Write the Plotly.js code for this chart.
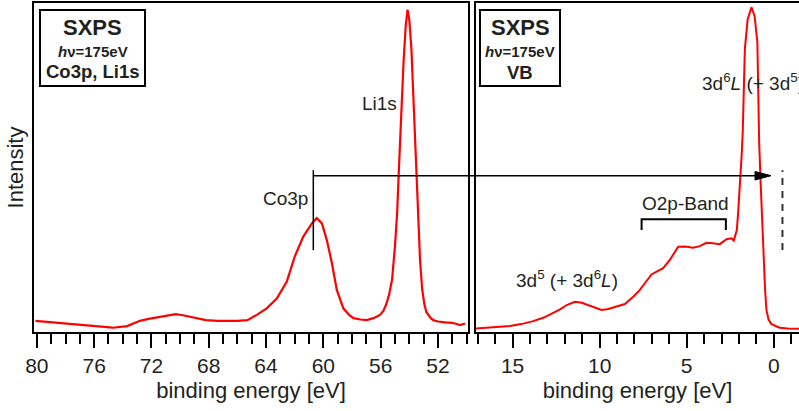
<!DOCTYPE html>
<html>
<head>
<meta charset="utf-8">
<script src="https://cdn.plot.ly/plotly-3.0.1.min.js"></script>
<style>html,body{margin:0;padding:0;background:#fff;}#chart{width:799px;height:411px;}</style>
</head>
<body>
<div id="chart"></div>
<script>
// ---- Data (binding energy in eV, intensity in arbitrary units) ----
const coLiEnergy = [80.1, 79.0, 77.9, 76.8, 75.8, 74.7, 73.7, 72.8, 72.2, 71.6, 70.9, 70.3, 69.8, 69.3, 68.7, 68.2, 67.4, 66.7, 66.0, 65.3, 64.65, 63.95, 63.25, 62.55, 62.0, 61.4, 60.8, 60.46, 60.1, 59.76, 59.4, 59.06, 58.6, 58.2, 57.9, 57.4, 56.97, 56.5, 56.04, 55.8, 55.6, 55.4, 55.2, 55.0, 54.85, 54.7, 54.55, 54.4, 54.25, 54.12, 54.0, 53.85, 53.7, 53.55, 53.4, 53.25, 53.1, 52.95, 52.8, 52.5, 52.32, 52.0, 51.5, 51.0, 50.46, 50.1];
const coLiIntensity = [3.4, 3.0, 2.6, 2.2, 1.8, 1.3, 1.8, 3.4, 4.0, 4.5, 5.0, 5.4, 5.1, 4.7, 4.1, 3.6, 3.4, 3.3, 3.4, 3.6, 5.2, 7.2, 10.2, 15.3, 22.9, 29.0, 33.0, 34.6, 33.0, 28.0, 20.9, 12.8, 7.2, 5.2, 4.2, 3.8, 3.6, 4.2, 5.2, 6.5, 8.5, 11.5, 16.0, 26.0, 36.0, 52.0, 68.0, 82.0, 93.0, 98.0, 95.0, 86.0, 70.0, 53.0, 36.0, 22.0, 13.0, 8.5, 6.0, 4.2, 3.6, 3.2, 2.9, 2.8, 2.1, 2.6];

const vbEnergy = [17.1, 16.0, 15.15, 14.5, 13.81, 13.2, 12.66, 12.3, 11.89, 11.6, 11.42, 11.03, 10.7, 10.37, 9.89, 9.5, 9.22, 8.55, 8.07, 7.69, 7.35, 7.02, 6.7, 6.35, 5.97, 5.7, 5.49, 5.1, 4.63, 4.25, 3.86, 3.5, 3.1, 2.71, 2.43, 2.3, 2.18, 2.12, 2.05, 1.92, 1.84, 1.78, 1.72, 1.66, 1.5, 1.28, 1.1, 0.94, 0.88, 0.84, 0.75, 0.65, 0.57, 0.5, 0.42, 0.3, 0.13, -0.34, -0.8, -1.45];
const vbIntensity = [1.1, 1.4, 1.8, 2.4, 3.3, 4.4, 5.7, 6.8, 8.2, 8.9, 9.2, 8.9, 8.2, 7.5, 6.7, 7.0, 7.5, 8.5, 10.7, 12.8, 15.2, 17.5, 18.4, 19.4, 21.9, 24.0, 25.9, 26.0, 25.6, 26.1, 27.1, 27.0, 26.7, 28.2, 28.5, 27.8, 29.5, 31.0, 36.0, 46.0, 54.0, 61.0, 72.0, 86.0, 95.0, 98.7, 96.0, 88.0, 70.0, 58.0, 45.0, 30.0, 21.0, 13.0, 6.7, 3.8, 2.4, 1.3, 1.1, 1.0];

const leftTicks = [80, 76, 72, 68, 64, 60, 56, 52];
const rightTicks = [15, 10, 5, 0];

// ---- Geometry helpers (pixel -> paper) ----
const W = 799, H = 411;
const M = {l: 34, r: 0, t: 3, b: 79};
const PW = W - M.l - M.r, PH = H - M.t - M.b;
const px = x => (x - M.l) / PW;
const py = y => (H - M.b - y) / PH;

const FONT = 'Liberation Sans, Arial, Helvetica, sans-serif';
const TXT = '#231f20';
const RED = '#ff0000';

const traces = [
  {x: coLiEnergy, y: coLiIntensity, xaxis: 'x', yaxis: 'y', type: 'scatter', mode: 'lines',
   line: {color: RED, width: 2.2}, hoverinfo: 'x+y', showlegend: false},
  {x: vbEnergy, y: vbIntensity, xaxis: 'x2', yaxis: 'y2', type: 'scatter', mode: 'lines',
   line: {color: RED, width: 2}, hoverinfo: 'x+y', showlegend: false}
];

const axisCommon = {
  showline: true, linecolor: '#000', linewidth: 2, mirror: true,
  ticks: 'outside', ticklen: 14, tickwidth: 2, tickcolor: '#000',
  showgrid: false, zeroline: false,
  tickfont: {family: FONT, size: 21, color: TXT}
};

function label(xpix, ypix, text, size, extra) {
  return Object.assign({xref: 'paper', yref: 'paper', x: px(xpix), y: py(ypix), text: text,
    showarrow: false, xanchor: 'center', yanchor: 'middle',
    font: {family: FONT, size: size, color: TXT}}, extra || {});
}

const layout = {
  width: W, height: H,
  margin: M,
  paper_bgcolor: '#fff', plot_bgcolor: '#fff',
  showlegend: false,
  font: {family: FONT, color: TXT},
  xaxis: Object.assign({}, axisCommon, {
    domain: [0, px(468)], range: [80.2, 49.9], anchor: 'y',
    tickvals: leftTicks, ticktext: leftTicks.map(String),
    minor: {dtick: 1, tick0: 0, ticks: 'outside', ticklen: 10, tickwidth: 2, tickcolor: '#000'},
    title: {text: 'binding energy [eV]', standoff: 6, font: {family: FONT, size: 22, color: TXT}}
  }),
  xaxis2: Object.assign({}, axisCommon, {
    domain: [px(476), 1], range: [17.1, -1.45], anchor: 'y2',
    tickvals: rightTicks, ticktext: rightTicks.map(String),
    minor: {dtick: 1, tick0: 0, ticks: 'outside', ticklen: 10, tickwidth: 2, tickcolor: '#000'},
    title: {text: 'binding energy [eV]', standoff: 6, font: {family: FONT, size: 22, color: TXT}}
  }),
  yaxis: {
    domain: [0, 1], range: [0, 100], anchor: 'x',
    showline: true, linecolor: '#000', linewidth: 2, mirror: true,
    ticks: '', showticklabels: false, showgrid: false, zeroline: false,
    title: {text: 'Intensity', standoff: 2, font: {family: FONT, size: 22, color: TXT}}
  },
  yaxis2: {
    domain: [0, 1], range: [0, 100], anchor: 'x2',
    showline: true, linecolor: '#000', linewidth: 2, mirror: false,
    ticks: '', showticklabels: false, showgrid: false, zeroline: false
  },
  shapes: [
    // info boxes
    {type: 'rect', xref: 'paper', yref: 'paper', x0: px(40), x1: px(145), y0: py(86), y1: py(10),
     line: {color: '#000', width: 2}, fillcolor: 'rgba(0,0,0,0)'},
    {type: 'rect', xref: 'paper', yref: 'paper', x0: px(480), x1: px(560), y0: py(86), y1: py(10),
     line: {color: '#000', width: 2}, fillcolor: 'rgba(0,0,0,0)'},
    // Co3p marker line
    {type: 'line', xref: 'x', yref: 'y', x0: 60.7, x1: 60.7, y0: 24.9, y1: 49.2,
     line: {color: '#000', width: 1.5}},
    // horizontal arrow shaft
    {type: 'line', xref: 'paper', yref: 'y', x0: px(313), x1: px(757), y0: 47.5, y1: 47.5,
     line: {color: '#000', width: 1.5}},
    // arrow head
    {type: 'path', xref: 'paper', yref: 'paper',
     path: `M ${px(755)} ${py(171.5)} L ${px(771)} ${py(175.7)} L ${px(755)} ${py(180)} Z`,
     fillcolor: '#000', line: {color: '#000', width: 1}},
    // dashed Fermi line
    {type: 'line', xref: 'x2', yref: 'y2', x0: -0.5, x1: -0.5, y0: 24.9, y1: 49.2,
     line: {color: '#333', width: 2, dash: '7px,6px'}},
    // O2p band bracket
    {type: 'path', xref: 'x2', yref: 'y2',
     path: 'M 7.59 31 L 7.59 34.25 L 2.75 34.25 L 2.75 31',
     line: {color: '#000', width: 2}}
  ],
  annotations: [
    label(92.5, 28, '<b>SXPS</b>', 22),
    label(92.5, 51, '<b><i>h</i>ν=175eV</b>', 15),
    label(92.5, 71, '<b>Co3p, Li1s</b>', 18.5),
    label(520, 28, '<b>SXPS</b>', 22),
    label(520, 51, '<b><i>h</i>ν=175eV</b>', 15),
    label(520, 72, '<b>VB</b>', 18.5),
    label(379, 103, 'Li1s', 19),
    label(310, 198, 'Co3p', 19, {xanchor: 'right'}),
    label(685.5, 204, 'O2p-Band', 19),
    label(567, 279, '3d<sup>5</sup> (+ 3d<sup>6</sup><i>L</i>)', 19),
    label(700, 82, '3d<sup>6</sup><i>L</i> (+ 3d<sup>5</sup>)', 19, {xanchor: 'left'})
  ]
};

Plotly.newPlot('chart', traces, layout, {displayModeBar: false, staticPlot: true});
</script>
</body>
</html>
